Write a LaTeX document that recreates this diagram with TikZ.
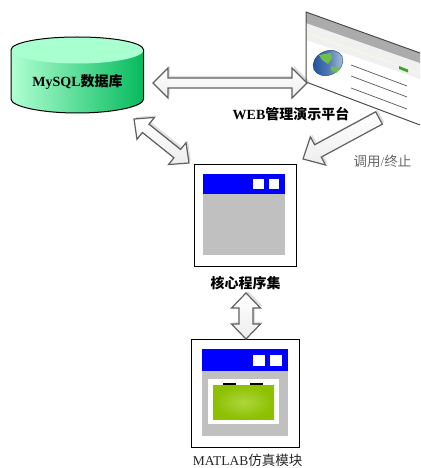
\documentclass[tikz,border=0pt]{standalone}
\usepackage{fontspec}
\setmainfont{Liberation Serif}
\newfontfamily\cjk{Noto Sans CJK SC}
\usetikzlibrary{calc,shadings}
\definecolor{dbtop}{HTML}{A8FFCF}
\definecolor{dbleft}{HTML}{B0FFD2}
\definecolor{dbright}{HTML}{06BA5E}
\definecolor{winblue}{HTML}{0000FF}
\definecolor{wingray}{HTML}{C0C0C0}
\definecolor{barGray}{HTML}{ABABAB}
\definecolor{cream}{HTML}{F6F3E8}
\definecolor{paleG}{HTML}{F0F0F0}
\definecolor{arrowline}{HTML}{606060}
\definecolor{globeD}{HTML}{1C4F9C}
\definecolor{globeL}{HTML}{B4C8DC}
\definecolor{land}{HTML}{6FC04A}
\definecolor{tagG}{HTML}{3AA52A}
\definecolor{lcdIn}{HTML}{AED63C}
\definecolor{lcdOut}{HTML}{8CC000}
\tikzset{
  x=1pt,y=-1pt,
  blockarrow/.style={draw=arrowline,line width=1.2pt,line join=miter,top color=white,bottom color=white!93!black},
  blockshadow/.style={fill=black,opacity=.13,draw=none},
  frame/.style={draw=black,line width=1pt,fill=white,minimum width=#1,minimum height=#1,inner sep=0pt},
  btn/.style={fill=white,draw=none},
  boldlabel/.style={font=\fontsize{14}{14}\selectfont\bfseries,inner sep=0pt,text=black},
  plainlabel/.style={font=\fontsize{13.5}{14}\selectfont,inner sep=0pt},
  webline/.style={draw=black!65,line width=.7pt}
}
\newcommand{\prepAB}[2]{\path let \p1=($(#2)-(#1)$), \n1={atan2(\y1,\x1)}, \n2={veclen(\x1,\y1)} in \pgfextra{\xdef\arang{\n1}\xdef\arlen{\n2}};}
\newcommand{\dblarrow}[5]{%
  \prepAB{#1}{#2}%
  \foreach \sty/\dx in {blockshadow/2pt,blockarrow/0pt}{%
  \begin{scope}[shift={($(#1)+(\dx,\dx)$)},rotate=\arang]
    \path[\sty] (0pt,0pt) -- (#3pt,#4pt) -- (#3pt,#5pt) -- (\arlen-#3pt,#5pt) -- (\arlen-#3pt,#4pt)
      -- (\arlen,0pt) -- (\arlen-#3pt,-#4pt) -- (\arlen-#3pt,-#5pt) -- (#3pt,-#5pt) -- (#3pt,-#4pt) -- cycle;
  \end{scope}}}
\newcommand{\onearrow}[5]{%
  \prepAB{#1}{#2}%
  \foreach \sty/\dx in {blockshadow/2pt,blockarrow/0pt}{%
  \begin{scope}[shift={($(#1)+(\dx,\dx)$)},rotate=\arang]
    \path[\sty] (0pt,#5pt) -- (\arlen-#3pt,#5pt) -- (\arlen-#3pt,#4pt)
      -- (\arlen,0pt) -- (\arlen-#3pt,-#4pt) -- (\arlen-#3pt,-#5pt) -- (0pt,-#5pt) -- cycle;
  \end{scope}}}
\begin{document}
\begin{tikzpicture}
\useasboundingbox (0,0) rectangle (420,468);

% database cylinder
\path[left color=dbleft,right color=dbright]
  (11,50) -- (11,99) .. controls (11,106.5) and (41,113) .. (77.3,113)
  .. controls (113.6,113) and (143.6,106.5) .. (143.6,99) -- (143.6,50)
  .. controls (143.6,42.5) and (113.6,37) .. (77.3,37)
  .. controls (41,37) and (11,42.5) .. (11,50) -- cycle;
\fill[dbtop] (11,50) .. controls (11,57.5) and (41,63.5) .. (77.3,63.5)
  .. controls (113.6,63.5) and (143.6,57.5) .. (143.6,50)
  .. controls (143.6,42.5) and (113.6,37) .. (77.3,37)
  .. controls (41,37) and (11,42.5) .. (11,50) -- cycle;
\draw[black,line width=1pt]
  (11,50) -- (11,99) .. controls (11,106.5) and (41,113) .. (77.3,113)
  .. controls (113.6,113) and (143.6,106.5) .. (143.6,99) -- (143.6,50)
  .. controls (143.6,42.5) and (113.6,37) .. (77.3,37)
  .. controls (41,37) and (11,42.5) .. (11,50) -- cycle;
\node[boldlabel] (dblabel) at (77.5,82) {MySQL{\cjk 数据库}};

% web browser
\fill[white] (306,12) -- (420,53) -- (420,125) -- (306,82) -- cycle;
\fill[paleG] (306,23) -- (420,63) -- (420,79) -- (306,40) -- cycle;
\fill[cream] (306,32) -- (420,72) -- (420,74) -- (306,34) -- cycle;
\fill[barGray] (306,12) -- (420,53) -- (420,63) -- (306,23) -- cycle;
\draw[black!70,line width=1pt] (420,53) -- (306,12) -- (306,82) -- (420,125);
\begin{scope}[shift={(328,63)},rotate=25]
  \path[left color=globeD,right color=globeL,middle color=globeD!65!globeL,draw=globeD!80!black,line width=.4pt] (0,0) ellipse[x radius=15.5,y radius=12];
\end{scope}
\fill[land] (319,55) -- (331,53) -- (332,58) -- (328,64) -- (322,60) -- cycle;
\fill[land] (331,66) -- (340,69) -- (336,73) -- (331,70) -- cycle;
\fill[tagG] (399,66) -- (408,69.5) -- (408,72.5) -- (399,69) -- cycle;
\draw[webline] (351,65) -- (407,86);
\draw[webline] (351,76) -- (407,97);
\draw[webline] (351,88) -- (407,109);
\node[boldlabel] (weblabel) at (291,114) {WEB{\cjk 管理演示平台}};

% core program set
\node[frame=102] (core) at (245,215) {};
\fill[wingray] (203,194) rectangle (285,255);
\fill[winblue] (203,174) rectangle (285,194);
\fill[btn] (253,179) rectangle (264,189);
\fill[btn] (269,179) rectangle (279,189);
\node[boldlabel] (corelabel) at (245.5,283) {\cjk 核心程序集};

% matlab module
\node[frame=108] (matlab) at (245.5,393) {};
\fill[wingray] (202,371) rectangle (288,436);
\fill[winblue] (202,349) rectangle (288,371);
\fill[btn] (253,355) rectangle (265,366);
\fill[btn] (270,355) rectangle (282,366);
\fill[white] (208,379) rectangle (279,424);
\shade[inner color=lcdIn,outer color=lcdOut] (213,385) rectangle (274,419);
\fill[black] (223,383) rectangle (236,385);
\fill[black] (250,383) rectangle (263,385);
\node[plainlabel,text=black!85] (matlablabel) at (247.5,460.5) {MATLAB{\cjk 仿真模块}};

% invoke label
\node[plainlabel,text=black!60] (calllabel) at (382.5,161) {{\cjk 调用}/{\cjk 终止}};

% arrow end points
\coordinate (dbE) at (153,83);
\coordinate (webW) at (307,83);
\coordinate (dbS) at (134,119);
\coordinate (coreNW) at (189,163);
\coordinate (webS) at (379,118);
\coordinate (coreNE) at (303,159);
\coordinate (coreS) at (246,293);
\coordinate (matlabN) at (246,339);

\dblarrow{dbE}{webW}{15}{15}{5}
\dblarrow{dbS}{coreNW}{15}{14}{5.3}
\onearrow{webS}{coreNE}{17}{16}{7}
\dblarrow{coreS}{matlabN}{15}{14.5}{7}
\end{tikzpicture}
\end{document}
